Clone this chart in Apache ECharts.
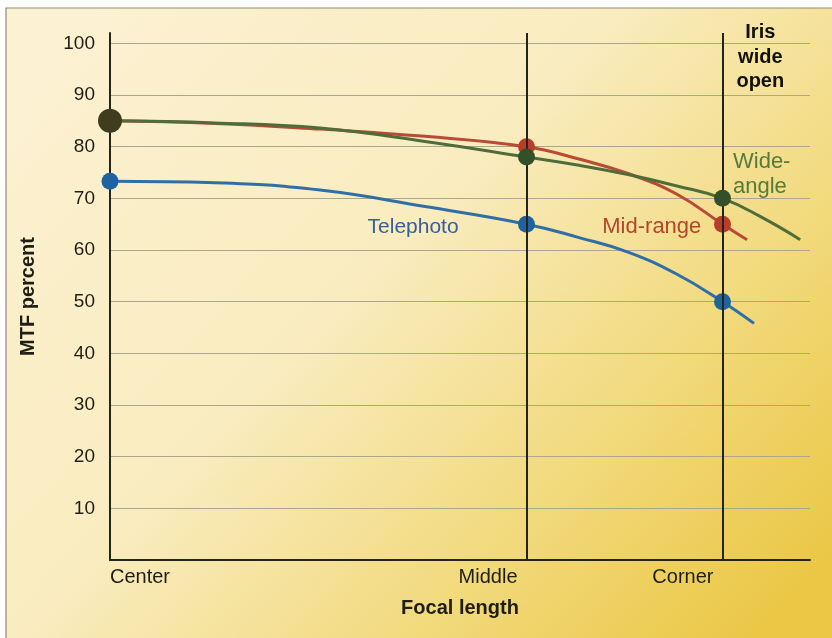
<!DOCTYPE html>
<html>
<head>
<meta charset="utf-8">
<script src="https://cdn.jsdelivr.net/npm/echarts@6/dist/echarts.min.js"></script>
<style>
  html, body { margin: 0; padding: 0; background: #ffffff; }
  #chart { width: 832px; height: 638px; }
</style>
</head>
<body>
<div id="chart"></div>
<script>
// Field positions along the focal plane
const stops = ['Center', 'Middle', 'Corner'];
const stopPos = [0, 59.5, 87.5];

// MTF (%) measured at each field position
const wideAtStops = [85, 78, 70];
const midAtStops = [85, 80, 65];
const teleAtStops = [73.3, 65, 50];

// Further readings along each curve (position, MTF %), including the run past the corner
const wideTrace = [[15, 84.6], [30, 83.6], [45, 81.0], [67, 76.4], [74, 74.6], [81, 72.4], [93, 66.4], [98.6, 62]];
const midTrace = [[15, 84.5], [30, 83.4], [45, 82.0], [67, 77.6], [74, 74.8], [81, 70.8], [91, 62]];
const teleTrace = [[15, 73.0], [30, 71.6], [45, 68.4], [67, 62.4], [74, 59.6], [81, 55.3], [92, 45.8]];

const FONT = '"Liberation Sans", Arial, sans-serif';
const INK = '#1f1e15';

function buildData(atStops, trace) {
  const pts = atStops.map((v, i) => ({ value: [stopPos[i], v], stop: true }));
  trace.forEach(p => pts.push({ value: p, stop: false }));
  pts.sort((a, b) => a.value[0] - b.value[0]);
  return pts.map(p => p.stop ? { value: p.value } : { value: p.value, symbol: 'none' });
}

const wideData = buildData(wideAtStops, wideTrace);
// the Wide-angle and Mid-range curves share the same point at the centre
wideData[0].symbolSize = 24;
wideData[0].itemStyle = { color: '#403d1e' };

const chart = echarts.init(document.getElementById('chart'), null, { renderer: 'canvas' });

const lineBase = {
  type: 'line',
  smooth: 0.45,
  symbol: 'circle',
  symbolSize: 17,
  showSymbol: true,
  silent: true,
  animation: false
};

function note(coord, text, color, extra) {
  return {
    coord: coord,
    symbol: 'circle',
    symbolSize: 1,
    itemStyle: { color: 'rgba(0,0,0,0)' },
    label: Object.assign({
      show: true, position: 'inside', formatter: text,
      color: color, fontFamily: FONT, fontSize: 21
    }, extra || {})
  };
}

chart.setOption({
  animation: false,
  graphic: [
    { type: 'rect', z: -20, silent: true, shape: { x: 0, y: 0, width: 832, height: 638 }, style: { fill: '#fdfdfb' } },
    {
      type: 'rect', z: -19, silent: true,
      shape: { x: 6, y: 8, width: 830, height: 634 },
      style: {
        fill: new echarts.graphic.LinearGradient(0.1, 0, 0.9, 1, [
          { offset: 0, color: '#fcf1d2' },
          { offset: 0.42, color: '#f9ecbf' },
          { offset: 0.72, color: '#f2da7e' },
          { offset: 1, color: '#ebc745' }
        ]),
        stroke: '#8d8b80', lineWidth: 1.2
      }
    }
  ],
  grid: { left: 110, right: 22, top: 33, bottom: 78, containLabel: false },
  xAxis: {
    type: 'value', min: 0, max: 100,
    name: 'Focal length', nameLocation: 'middle', nameGap: 38,
    nameTextStyle: { fontFamily: FONT, fontSize: 20, fontWeight: 'bold', color: INK },
    axisLine: { show: true, lineStyle: { color: '#25241a', width: 2 } },
    axisTick: { show: false },
    splitLine: { show: false },
    axisLabel: {
      customValues: stopPos,
      formatter: v => { const i = stopPos.indexOf(v); return i >= 0 ? stops[i] : ''; },
      align: 'right', alignMinLabel: 'left',
      padding: [0, 9, 0, 0],
      margin: 7,
      fontFamily: FONT, fontSize: 20, color: INK
    }
  },
  yAxis: {
    type: 'value', min: 0, max: 102, interval: 10,
    name: 'MTF percent', nameLocation: 'middle', nameGap: 72,
    nameTextStyle: { fontFamily: FONT, fontSize: 20, fontWeight: 'bold', color: INK },
    axisLine: { show: true, lineStyle: { color: '#25241a', width: 2 } },
    axisTick: { show: false },
    axisLabel: {
      showMinLabel: false, showMaxLabel: false, margin: 15,
      formatter: v => (v > 0 && v <= 100 && v % 10 === 0) ? String(v) : '',
      fontFamily: FONT, fontSize: 19, color: INK
    },
    splitLine: { show: true, showMinLine: false, showMaxLine: false, lineStyle: { color: '#aaa78f', width: 1 } }
  },
  series: [
    Object.assign({}, lineBase, {
      name: 'Telephoto',
      data: buildData(teleAtStops, teleTrace),
      lineStyle: { color: '#2f6fa6', width: 3 },
      itemStyle: { color: '#1f62a0' },
      markPoint: { silent: true, data: [note([43.3, 64.4], 'Telephoto', '#35609c')] },
      z: 3
    }),
    Object.assign({}, lineBase, {
      name: 'Mid-range',
      data: buildData(midAtStops, midTrace),
      lineStyle: { color: '#b94a34', width: 3 },
      itemStyle: { color: '#b83d2a' },
      markPoint: { silent: true, data: [note([77.4, 64.4], 'Mid-range', '#b2462b', { fontSize: 22 })] },
      markLine: {
        silent: true, symbol: 'none', label: { show: false },
        lineStyle: { color: '#25241a', width: 2, type: 'solid' },
        data: [{ xAxis: stopPos[1] }, { xAxis: stopPos[2] }]
      },
      z: 4
    }),
    Object.assign({}, lineBase, {
      name: 'Wide-angle',
      data: wideData,
      lineStyle: { color: '#4f6d3a', width: 3 },
      itemStyle: { color: '#34502b' },
      markPoint: {
        silent: true,
        data: [
          note([89, 74.6], 'Wide-\nangle', '#557a3a', { fontSize: 22, align: 'left', lineHeight: 25 }),
          note([92.9, 97.3], 'Iris\nwide\nopen', '#111108', { fontSize: 20, fontWeight: 'bold', lineHeight: 24.5, align: 'center' })
        ]
      },
      z: 5
    })
  ]
});
</script>
</body>
</html>
